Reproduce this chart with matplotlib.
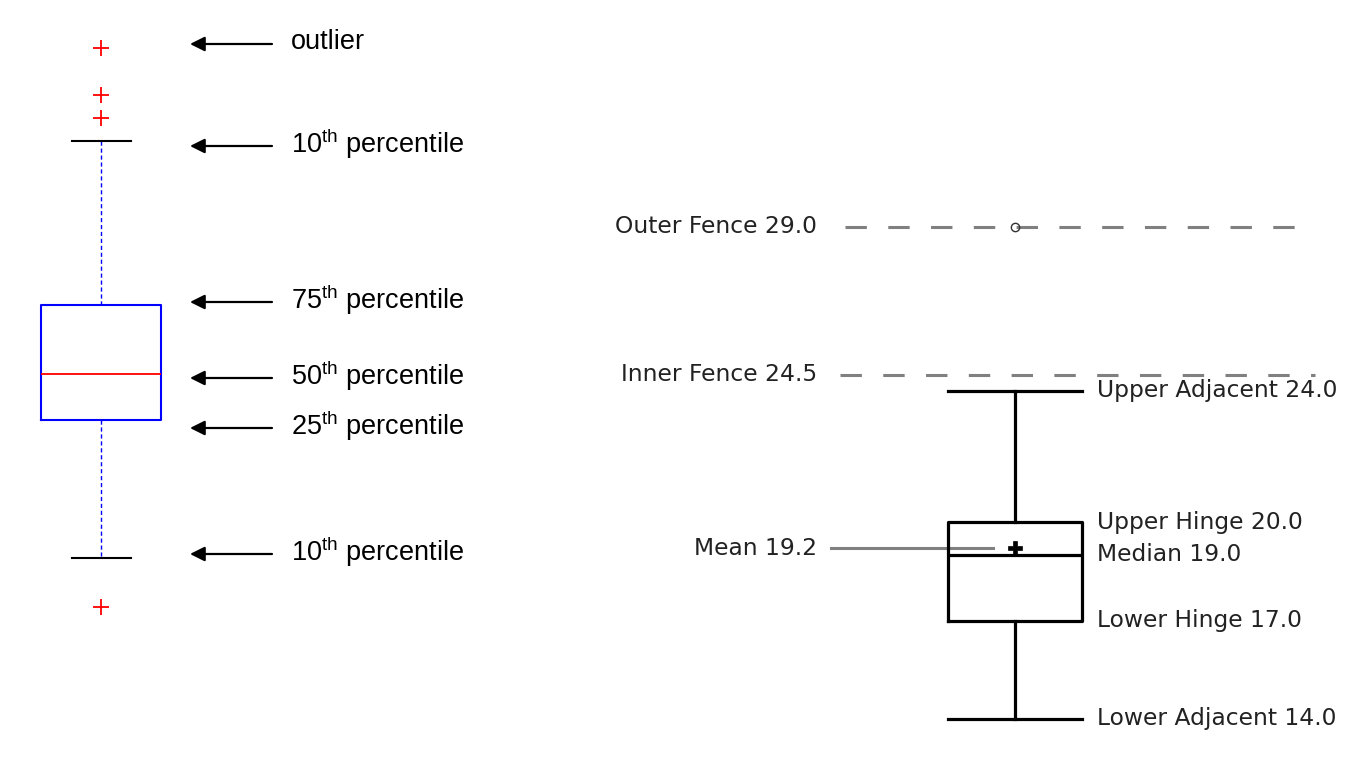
import matplotlib
matplotlib.use('Agg')
import matplotlib.pyplot as plt

# ---------------- data ----------------
# Left panel: schematic box plot (arbitrary units)
left_labels = ['outlier', '10$^{\\mathregular{th}}$ percentile', '75$^{\\mathregular{th}}$ percentile',
               '50$^{\\mathregular{th}}$ percentile', '25$^{\\mathregular{th}}$ percentile',
               '10$^{\\mathregular{th}}$ percentile']
left_whishi = 61.9
left_q3 = 45.5
left_med = 38.6
left_q1 = 34.0
left_whislo = 20.2
left_fliers = [71.2, 66.5, 64.2, 15.3]
left_label_values = [71.6, 61.4, 45.8, 38.2, 33.2, 20.6]

# Right panel: annotated box plot
lower_adjacent = 14.0
lower_hinge = 17.0
median = 19.0
upper_hinge = 20.0
upper_adjacent = 24.0
mean = 19.2
inner_fence = 24.5
outer_fence = 29.0
right_outliers = [29.0]

plt.rcParams['mathtext.fontset'] = 'custom'
plt.rcParams['mathtext.rm'] = 'Liberation Sans'

fig = plt.figure(figsize=(13.72, 7.6), dpi=100)
ax_l = fig.add_axes([0, 0, 1, 1])
ax_r = fig.add_axes([0, 0, 1, 1])
ax_r.patch.set_alpha(0)
for ax in (ax_l, ax_r):
    ax.set_xlim(0, 1372)
    ax.axis('off')
ax_l.set_ylim(0, 76)
ax_r.set_ylim(12.75, 35.92)

# ---------- left panel ----------
left_stats = [dict(med=left_med, q1=left_q1, q3=left_q3, whislo=left_whislo,
                   whishi=left_whishi, fliers=left_fliers)]
ax_l.bxp(left_stats, positions=[101], widths=[120], capwidths=[59],
         manage_ticks=False,
         boxprops=dict(color='#0000ff', lw=1.5),
         medianprops=dict(color='#ff0000', lw=1.3),
         whiskerprops=dict(color='#0000ff', lw=1.0, linestyle=(0, (3, 2))),
         capprops=dict(color='black', lw=1.5),
         flierprops=dict(marker='+', markeredgecolor='#ff0000', markersize=11, markeredgewidth=1.3))

for lab, v in zip(left_labels, left_label_values):
    ax_l.annotate('', xy=(190, v), xytext=(272, v),
                  arrowprops=dict(arrowstyle='-|>', color='black', lw=1.6,
                                  mutation_scale=22, shrinkA=0, shrinkB=0))
    ax_l.text(291, v + 0.2, lab, ha='left', va='center', fontsize=19.5,
              family='Liberation Sans', color='black')

# ---------- right panel ----------
fs = 16.85
tc = '#222222'
right_stats = [dict(med=median, q1=lower_hinge, q3=upper_hinge, whislo=lower_adjacent,
                    whishi=upper_adjacent, mean=mean, fliers=right_outliers)]
ax_r.bxp(right_stats, positions=[1015], widths=[134], capwidths=[134],
         manage_ticks=False, showmeans=True,
         boxprops=dict(color='black', lw=2.3),
         medianprops=dict(color='black', lw=2.3),
         whiskerprops=dict(color='black', lw=2.3),
         capprops=dict(color='black', lw=2.3),
         meanprops=dict(marker='P', markerfacecolor='black', markeredgecolor='black',
                        markersize=10, markeredgewidth=0.5),
         flierprops=dict(marker='o', markerfacecolor='none', markeredgecolor='#333333',
                         markersize=6, markeredgewidth=1.0))

for val, name, x0 in [(outer_fence, 'Outer Fence', 845), (inner_fence, 'Inner Fence', 840)]:
    ax_r.plot([x0, 1315], [val, val], color='#808080', lw=2.2,
              linestyle=(0, (7, 7)), zorder=1)
    ax_r.text(817, val, f'{name} {val:.1f}', ha='right', va='center',
              fontsize=fs, family='DejaVu Sans', color=tc)

ax_r.plot([831, 993], [mean, mean], color='#808080', lw=2.2, zorder=1)
ax_r.text(817, mean, f'Mean {mean:.1f}', ha='right', va='center',
          fontsize=fs, family='DejaVu Sans', color=tc)

for val, name in [(upper_adjacent, 'Upper Adjacent'), (upper_hinge, 'Upper Hinge'),
                  (median, 'Median'), (lower_hinge, 'Lower Hinge'),
                  (lower_adjacent, 'Lower Adjacent')]:
    ax_r.text(1097, val, f'{name} {val:.1f}', ha='left', va='center',
              fontsize=fs, family='DejaVu Sans', color=tc)

fig.savefig('out.png', dpi=100)
